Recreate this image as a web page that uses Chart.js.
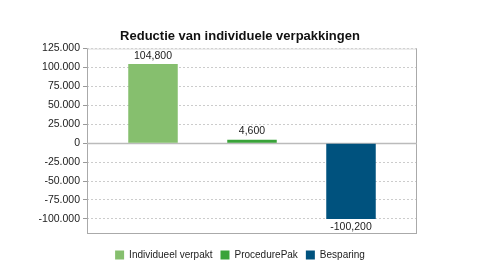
<!DOCTYPE html>
<html>
<head>
<meta charset="utf-8">
<script src="https://cdn.jsdelivr.net/npm/chart.js@4/dist/chart.umd.min.js"></script>
<style>
  html, body { margin: 0; padding: 0; background: #fff; }
  #wrap { width: 480px; height: 270px; }
</style>
</head>
<body>
<div id="wrap"><canvas id="chart"></canvas></div>
<script>
  // Reduction of individual packages (one category, three series)
  const categories = [''];
  const seriesNames = ['Individueel verpakt', 'ProcedurePak', 'Besparing'];
  const seriesValues = [104800, 4600, -100200];
  const seriesColors = ['#86bf6e', '#3aa33a', '#00527e'];
  const yTicks = [125000, 100000, 75000, 50000, 25000, 0, -25000, -50000, -75000, -100000];
  const yMin = -120000;
  const yMax = 125000;

  Chart.defaults.font.family = '"Liberation Sans", Arial, sans-serif';
  Chart.defaults.color = '#333';

  const fmtTick = v => String(Math.abs(v)).replace(/\B(?=(\d{3})+(?!\d))/g, '.');
  const fmtLabel = v => v.toLocaleString('en-US');

  // draws value labels above / below each bar
  const valueLabels = {
    id: 'valueLabels',
    afterDatasetsDraw(chart) {
      const ctx = chart.ctx;
      ctx.save();
      ctx.font = '10.5px "Liberation Sans", Arial, sans-serif';
      ctx.fillStyle = '#222';
      ctx.textAlign = 'center';
      chart.data.datasets.forEach((ds, i) => {
        chart.getDatasetMeta(i).data.forEach((bar, j) => {
          const v = ds.data[j];
          if (v >= 0) {
            ctx.textBaseline = 'bottom';
            ctx.fillText(fmtLabel(v), bar.x, bar.y - 3);
          } else {
            ctx.textBaseline = 'top';
            ctx.fillText(fmtLabel(v), bar.x, bar.y + 3);
          }
        });
      });
      ctx.restore();
    }
  };

  // frame around the plot area
  const frame = {
    id: 'frame',
    beforeDatasetsDraw(chart) {
      const a = chart.chartArea, ctx = chart.ctx;
      ctx.save();
      ctx.lineWidth = 1;
      ctx.strokeStyle = '#dddddd';
      ctx.beginPath();
      ctx.moveTo(a.left, a.top + 0.5);
      ctx.lineTo(a.right, a.top + 0.5);
      ctx.stroke();
      ctx.strokeStyle = '#aaaaaa';
      ctx.beginPath();
      ctx.moveTo(a.right - 0.5, a.top);
      ctx.lineTo(a.right - 0.5, a.bottom);
      ctx.moveTo(a.left + 0.5, a.top);
      ctx.lineTo(a.left + 0.5, a.bottom);
      ctx.moveTo(a.left, a.bottom - 0.5);
      ctx.lineTo(a.right, a.bottom - 0.5);
      ctx.stroke();
      // zero line
      const y0 = Math.round(chart.scales.y.getPixelForValue(0)) + 0.5;
      ctx.strokeStyle = '#bbbbbb';
      ctx.lineWidth = 1.5;
      ctx.beginPath();
      ctx.moveTo(a.left, y0);
      ctx.lineTo(a.right, y0);
      ctx.stroke();
      ctx.restore();
    }
  };

  new Chart(document.getElementById('chart').getContext('2d'), {
    type: 'bar',
    data: {
      labels: categories,
      datasets: seriesNames.map((name, i) => ({
        label: name,
        data: [seriesValues[i]],
        backgroundColor: seriesColors[i],
        borderWidth: 0,
        categoryPercentage: 0.9,
        barPercentage: 0.5
      }))
    },
    options: {
      responsive: true,
      maintainAspectRatio: false,
      animation: false,
      layout: { padding: { left: 10, right: 10, top: 29, bottom: 0 } },
      plugins: {
        title: {
          display: true,
          text: 'Reductie van individuele verpakkingen',
          color: '#111',
          font: { size: 13, weight: 'bold' },
          padding: { top: 0, bottom: 4 }
        },
        legend: {
          position: 'bottom',
          labels: {
            boxWidth: 9,
            boxHeight: 9,
            padding: 8,
            color: '#222',
            font: { size: 10 }
          }
        },
        tooltip: { enabled: false }
      },
      scales: {
        x: {
          grid: { display: false },
          border: { display: false },
          ticks: { display: false }
        },
        y: {
          min: yMin,
          max: yMax,
          afterBuildTicks: s => { s.ticks = yTicks.map(v => ({ value: v })); },
          afterFit: s => { s.width = 77; },
          grid: {
            color: ctx => ctx.tick && ctx.tick.value === 0 ? 'rgba(0,0,0,0)' : '#cccccc',
            tickColor: '#999999',
            tickLength: 4,
            lineWidth: 1
          },
          border: { display: false, dash: [2, 2] },
          ticks: {
            color: '#222',
            font: { size: 10.5 },
            padding: 3,
            callback: v => (v < 0 ? '-' : '') + fmtTick(v)
          }
        },
        yRight: {
          position: 'right',
          afterFit: s => { s.width = 53; },
          grid: { display: false },
          border: { display: false },
          ticks: { display: false }
        }
      }
    },
    plugins: [frame, valueLabels]
  });
</script>
</body>
</html>
